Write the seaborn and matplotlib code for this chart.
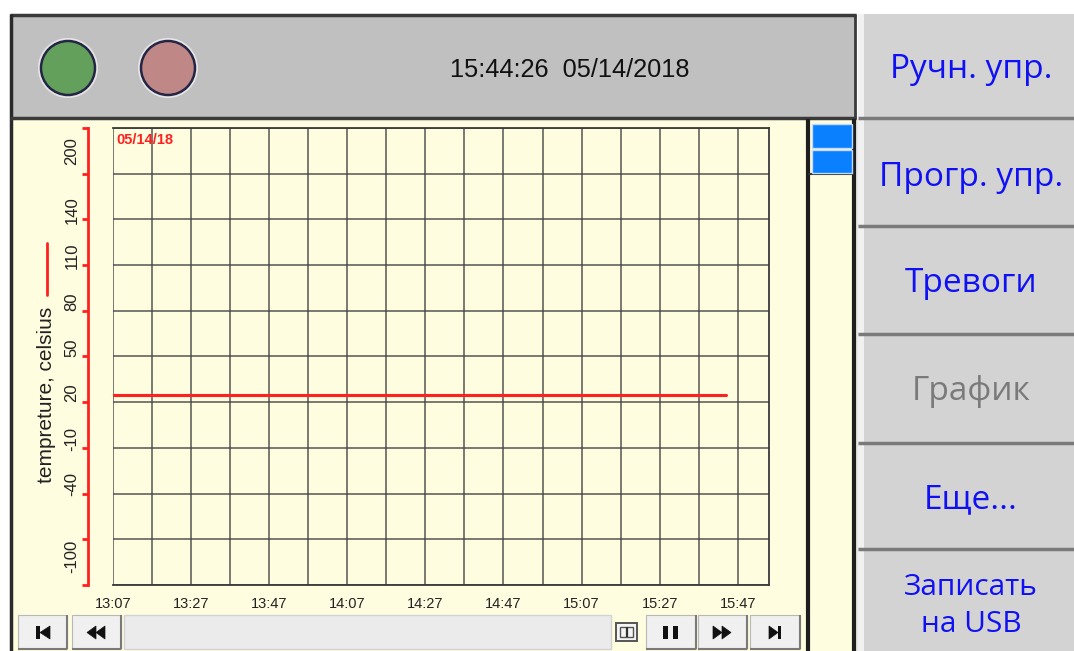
import numpy as np
import pandas as pd
import matplotlib
matplotlib.use("Agg")
import matplotlib.pyplot as plt
import matplotlib.dates as mdates
from matplotlib import font_manager as fm
from matplotlib.patches import Rectangle, Circle, Polygon
from matplotlib.lines import Line2D
import seaborn as sns

# ---------------- data ----------------
day = "2018-05-14"
series_times = ["13:07", "15:44"]
series_temperature = [25, 25]
x_start, x_end = "13:07", "15:55"
x_tick_labels = ["13:07", "13:27", "13:47", "14:07", "14:27", "14:47", "15:07", "15:27", "15:47"]
y_ticks = [-100, -70, -40, -10, 20, 50, 80, 110, 140, 170, 200]
y_tick_labels = ["-100", "", "-40", "-10", "20", "50", "80", "110", "140", "", "200"]
y_label = "tempreture, celsius"
date_stamp = "05/14/18"
clock_text = "15:44:26  05/14/2018"
menu_labels = ["Ручн. упр.", "Прогр. упр.", "Тревоги", "График", "Еще...", "Записать\nна USB"]
menu_active = "График"

# ---------------- fonts ----------------
sns.set_style("white")
plt.rcParams["font.family"] = ["Liberation Sans", "DejaVu Sans"]
MENU_FONT = ["Open Sans", "Noto Sans", "DejaVu Sans"]

RED = "#FF2020"
W, H = 1074, 651
fig = plt.figure(figsize=(W / 100, H / 100), dpi=100)
fig.patch.set_facecolor("white")

bg = fig.add_axes([0, 0, 1, 1], zorder=0)
bg.set_xlim(0, W)
bg.set_ylim(H, 0)
bg.axis("off")

def rect(x0, y0, x1, y1, fc, ec="none", lw=0, z=1):
    bg.add_patch(Rectangle((x0, y0), x1 - x0, y1 - y0, facecolor=fc, edgecolor=ec, linewidth=lw, zorder=z))

def line(xs, ys, c, lw, z=3):
    bg.add_line(Line2D(xs, ys, color=c, linewidth=lw, zorder=z, solid_capstyle="butt"))

# header
rect(10, 14, 856, 119, "#C0C0C0")
line([10, 856], [15, 15], "#3A3A3A", 2.5)
line([11, 11], [14, 651], "#2A2A2A", 2.5)
line([10, 856], [118, 118], "#3A3A3A", 2.5)
line([855, 855], [14, 119], "#3A3A3A", 2)
for cx, fc in [(68, "#63A05C"), (168, "#C08787")]:
    bg.add_patch(Circle((cx, 68), 30, facecolor="#E6E6E6", edgecolor="none", zorder=2))
    bg.add_patch(Circle((cx, 68), 27, facecolor=fc, edgecolor="#252545", linewidth=1.8, zorder=3))
bg.text(570, 70, clock_text, ha="center", va="center", fontsize=18.3, color="#111111", zorder=4)

# chart panel
rect(12, 119.5, 855, 651, "#FFFDDF")
line([808, 808], [119, 651], "#1E1E1E", 3)
line([854, 854], [119, 651], "#1E1E1E", 3)
rect(855.5, 119, 861, 651, "#E6E6E6")
line([808, 854], [174, 174], "#333333", 1.5)
for y0, y1 in [(124, 148), (150, 173)]:
    rect(812, y0, 852, y1, "#0A80FF", "#BFD9FF", 1, z=3)

# right menu buttons
bands = [(14, 117), (119, 225), (227, 333), (335, 442), (444, 548), (550, 651)]
text_y = [70, 178, 283, 392, 500, 606]
for (y0, y1), lab, ty in zip(bands, menu_labels, text_y):
    rect(861, y0, W, y1, "#D3D3D3")
    rect(858, y0, 864, y1, "#F1F1F1")
    if y1 < 650:
        line([858, W], [y1 + 1, y1 + 1], "#7A7A7A", 2.5)
    col = "#7A7A7A" if lab == menu_active else "#1010F5"
    fs = 21.5 if "\n" in lab else 24
    bg.text(971, ty, lab, ha="center", va="center", fontsize=fs, family=MENU_FONT,
            color=col, linespacing=1.4, zorder=4)

# bottom toolbar
rect(124, 615, 611, 649, "#EBEBEB", "#D2D2D2", 1, z=2)
for x0, x1 in [(18, 67), (72, 121), (646, 696), (698, 747), (750, 800)]:
    rect(x0, 615, x1, 649, "#F0F0F0", "#B8B8B8", 0.8, z=2)
    line([x0, x1], [649, 649], "#7A7A7A", 1.5)
    line([x1, x1], [615, 649], "#7A7A7A", 1.5)
ic = "#111111"
def tri(pts):
    bg.add_patch(Polygon(pts, closed=True, facecolor=ic, edgecolor=ic, linewidth=0.5, zorder=4))
rect(36, 626, 40, 639, ic, z=4); tri([(50, 626), (50, 639), (40, 632.5)])
tri([(96, 626), (96, 639), (87, 632.5)]); tri([(105, 626), (105, 639), (96, 632.5)])
rect(663, 626, 668, 639, ic, z=4); rect(673, 626, 678, 639, ic, z=4)
tri([(713, 626), (713, 639), (722, 632.5)]); tri([(722, 626), (722, 639), (731, 632.5)])
tri([(769, 626), (769, 639), (778, 632.5)]); rect(778, 626, 781, 639, ic, z=4)
rect(616, 623, 637, 641, "#F4F4F4", "#555555", 1.4, z=4)
rect(620, 627, 633, 637, "#F4F4F4", "#555555", 1.0, z=5)
line([626.5, 626.5], [627, 637], "#333333", 1.6, z=6)

# ---------------- chart ----------------
L, R, T, B = 113, 769, 128, 585
ax = fig.add_axes([L / W, 1 - B / H, (R - L) / W, (B - T) / H], zorder=2)
ax.set_facecolor("none")

df = pd.DataFrame({
    "time": pd.to_datetime([f"{day} {t}" for t in series_times]),
    "temperature": series_temperature,
})
sns.lineplot(data=df, x="time", y="temperature", ax=ax, color=RED, linewidth=2.2, zorder=3)

t0 = pd.Timestamp(f"{day} {x_start}")
t1 = pd.Timestamp(f"{day} {x_end}")
ax.set_xlim(t0, t1)
ax.set_ylim(y_ticks[0], y_ticks[-1])

major = pd.to_datetime([f"{day} {t}" for t in x_tick_labels])
minor = pd.date_range(t0, t1, freq="10min")
ax.set_xticks(major)
ax.set_xticklabels(x_tick_labels)
ax.set_xticks(minor, minor=True)
ax.tick_params(axis="x", which="both", length=0, pad=9, labelsize=10.5, labelcolor="#222222")
ax.grid(False)
for xm in minor:
    ax.axvline(xm, color="#464646", linewidth=1.3, alpha=0.78, zorder=0)
for yv in y_ticks:
    ax.axhline(yv, color="#464646", linewidth=1.3, alpha=0.78, zorder=0)

ax.set_yticks(y_ticks)
ax.set_yticklabels([""] * len(y_ticks))
ax.tick_params(axis="y", which="major", left=True, length=4, width=2, color=RED, direction="out", pad=2)
ax.set_ylabel("")
ax.set_xlabel("")

for s in ["top", "right", "bottom"]:
    ax.spines[s].set_visible(True)
    ax.spines[s].set_color("#3A3A3A")
    ax.spines[s].set_linewidth(1.3)
ax.spines["left"].set_position(("outward", 18))
ax.spines["left"].set_color(RED)
ax.spines["left"].set_linewidth(2)

ytr = ax.get_yaxis_transform()
xl = (72 - L) / (R - L)
for v, lab in zip(y_ticks, y_tick_labels):
    if not lab:
        continue
    if v == y_ticks[-1]:
        yc = v - 15
    elif v == y_ticks[0]:
        yc = v + 19
    else:
        yc = v + 6
    ax.text(xl, yc, lab, transform=ytr, rotation=90, ha="center", va="center",
            rotation_mode="anchor", fontsize=12, color="#222222", clip_on=False)

ax.text((47 - L) / (R - L), 1 - (395 - T) / (B - T), y_label, transform=ax.transAxes,
        rotation=90, ha="center", va="center", rotation_mode="anchor",
        fontsize=15, color="#222222", clip_on=False)
ax.add_line(Line2D([(47 - L) / (R - L)] * 2, [1 - (243 - T) / (B - T), 1 - (295 - T) / (B - T)],
                   transform=ax.transAxes, color=RED, linewidth=2, clip_on=False))
ax.text(0.005, 0.99, date_stamp, transform=ax.transAxes, ha="left", va="top",
        fontsize=10.5, fontweight="bold", color=RED)

fig.savefig("out.png", dpi=100, facecolor="white")
